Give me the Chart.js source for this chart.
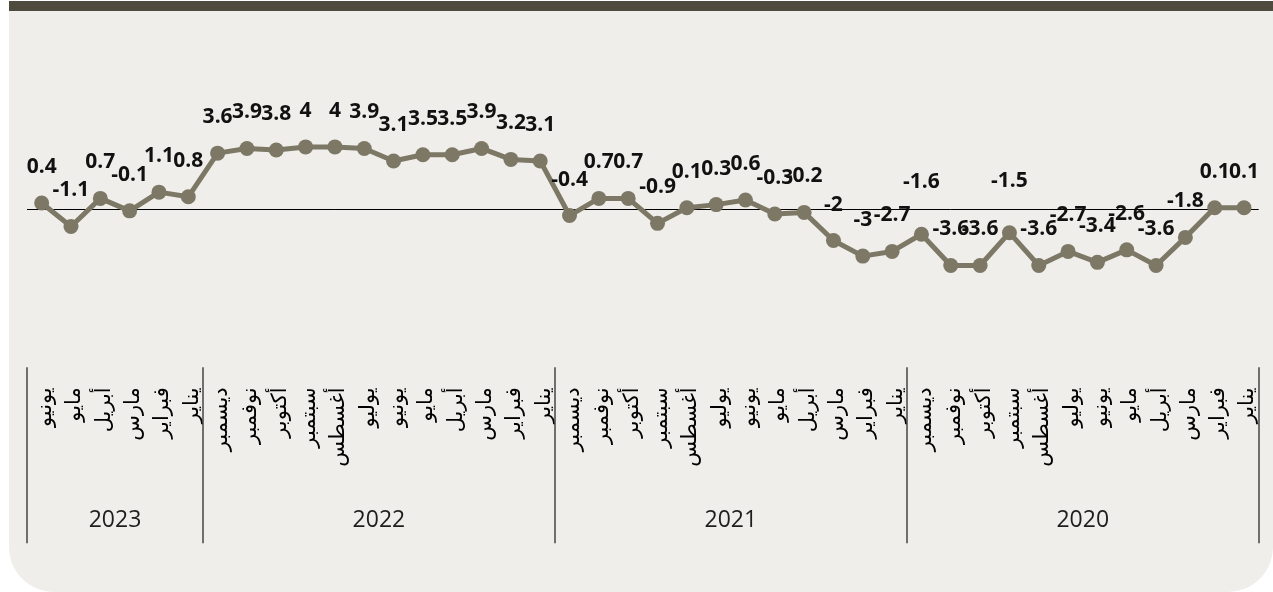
<!DOCTYPE html>
<html lang="ar">
<head>
<meta charset="utf-8">
<script src="https://cdn.jsdelivr.net/npm/chart.js@4.4.1/dist/chart.umd.min.js"></script>
<style>
  html, body { margin: 0; padding: 0; background: #ffffff; }
  #wrap { position: relative; width: 1273px; height: 592px; overflow: hidden; }
  #panel { position: absolute; left: 9px; top: 11px; width: 1264px; height: 581px;
           background: #efeeea; border-radius: 0 0 45px 45px; }
  #bar { position: absolute; left: 9px; top: 1px; width: 1264px; height: 10px; background: #4f4a3e; }
  #c { position: absolute; left: 0; top: 0; }
</style>
</head>
<body>
<div id="wrap">
  <div id="panel"></div>
  <div id="bar"></div>
  <canvas id="c" width="1273" height="592"></canvas>
</div>
<script>
// Monthly change, chronological order (the axis runs right-to-left)
const years = ['2020', '2021', '2022', '2023'];
const months = ['يناير', 'فبراير', 'مارس', 'أبريل', 'مايو', 'يونيو',
                'يوليو', 'أغسطس', 'سبتمبر', 'أكتوبر', 'نوفمبر', 'ديسمبر'];
const values2020 = [0.1, 0.1, -1.8, -3.6, -2.6, -3.4, -2.7, -3.6, -1.5, -3.6, -3.6, -1.6];
const values2021 = [-2.7, -3, -2, -0.2, -0.3, 0.6, 0.3, 0.1, -0.9, 0.7, 0.7, -0.4];
const values2022 = [3.1, 3.2, 3.9, 3.5, 3.5, 3.1, 3.9, 4, 4, 3.8, 3.9, 3.6];
const values2023 = [0.8, 1.1, -0.1, 0.7, -1.1, 0.4];

// Labels that sit a little higher above their point (year, month)
const raisedLabels = [['2020', 'سبتمبر'], ['2020', 'ديسمبر']];

const seriesByYear = [values2020, values2021, values2022, values2023];
const categoryMonths = [];
const categoryYears = [];
const values = [];
seriesByYear.forEach((vals, yi) => {
  vals.forEach((v, mi) => {
    categoryMonths.push(months[mi]);
    categoryYears.push(years[yi]);
    values.push(v);
  });
});
const raisedIdx = new Set(raisedLabels.map(([y, m]) =>
  categoryMonths.findIndex((mm, i) => mm === m && categoryYears[i] === y)));

const LINE_COLOR = '#7d7866';

const valueLabels = {
  id: 'valueLabels',
  afterDatasetsDraw(chart) {
    const ctx = chart.ctx;
    const meta = chart.getDatasetMeta(0);
    const data = chart.data.datasets[0].data;
    ctx.save();
    ctx.font = 'bold 21px "Open Sans"';
    ctx.fillStyle = '#111111';
    ctx.textAlign = 'center';
    ctx.textBaseline = 'alphabetic';
    meta.data.forEach((pt, i) => {
      const lift = raisedIdx.has(i) ? 46 : 30;
      ctx.fillText(String(data[i]), pt.x, pt.y - lift);
    });
    ctx.restore();
  }
};

const yearGroups = {
  id: 'yearGroups',
  afterDraw(chart) {
    const ctx = chart.ctx;
    const x = chart.scales.x;
    const step = Math.abs(x.getPixelForValue(1) - x.getPixelForValue(0));
    const top = x.top + 2;
    const bottom = x.top + 178;
    ctx.save();
    ctx.strokeStyle = '#454545';
    ctx.lineWidth = 1.5;
    ctx.fillStyle = '#1e1e1e';
    ctx.font = '23px "Open Sans"';
    ctx.textAlign = 'center';
    ctx.textBaseline = 'middle';
    const edges = new Set();
    years.forEach(yr => {
      const first = categoryYears.indexOf(yr);
      const last = categoryYears.lastIndexOf(yr);
      const a = x.getPixelForValue(first);
      const b = x.getPixelForValue(last);
      const lo = Math.min(a, b) - step / 2;
      const hi = Math.max(a, b) + step / 2;
      edges.add(Math.round(lo));
      edges.add(Math.round(hi));
      ctx.fillText(yr, (lo + hi) / 2, x.top + 155);
    });
    edges.forEach(px => {
      ctx.beginPath();
      ctx.moveTo(px, top);
      ctx.lineTo(px, bottom);
      ctx.stroke();
    });
    ctx.restore();
  }
};

new Chart(document.getElementById('c'), {
  type: 'line',
  data: {
    labels: categoryMonths,
    datasets: [{
      data: values,
      borderColor: LINE_COLOR,
      backgroundColor: LINE_COLOR,
      borderWidth: 5,
      borderJoinStyle: 'round',
      tension: 0,
      pointRadius: 7.5,
      pointBorderWidth: 0,
      pointBackgroundColor: LINE_COLOR
    }]
  },
  options: {
    responsive: false,
    animation: false,
    devicePixelRatio: 1,
    layout: { padding: { left: 27, right: 14.3, top: 53.3, bottom: 26.7 } },
    plugins: { legend: { display: false }, tooltip: { enabled: false } },
    scales: {
      x: {
        type: 'category',
        reverse: true,
        offset: true,
        grid: { display: false, drawTicks: false },
        border: { display: false },
        ticks: {
          autoSkip: false,
          minRotation: 90,
          maxRotation: 90,
          padding: 22,
          labelOffset: 4,
          color: '#000000',
          font: { family: '"DejaVu Sans"', size: 21 }
        },
        afterFit(scale) { scale.height = 200; }
      },
      y: {
        min: -10,
        max: 10,
        ticks: { display: false, stepSize: 5 },
        grid: {
          drawTicks: false,
          lineWidth: 1,
          color: c => (c.tick && c.tick.value === 0) ? '#000000' : 'rgba(0,0,0,0)'
        },
        border: { display: false }
      }
    }
  },
  plugins: [valueLabels, yearGroups]
});
</script>
</body>
</html>
